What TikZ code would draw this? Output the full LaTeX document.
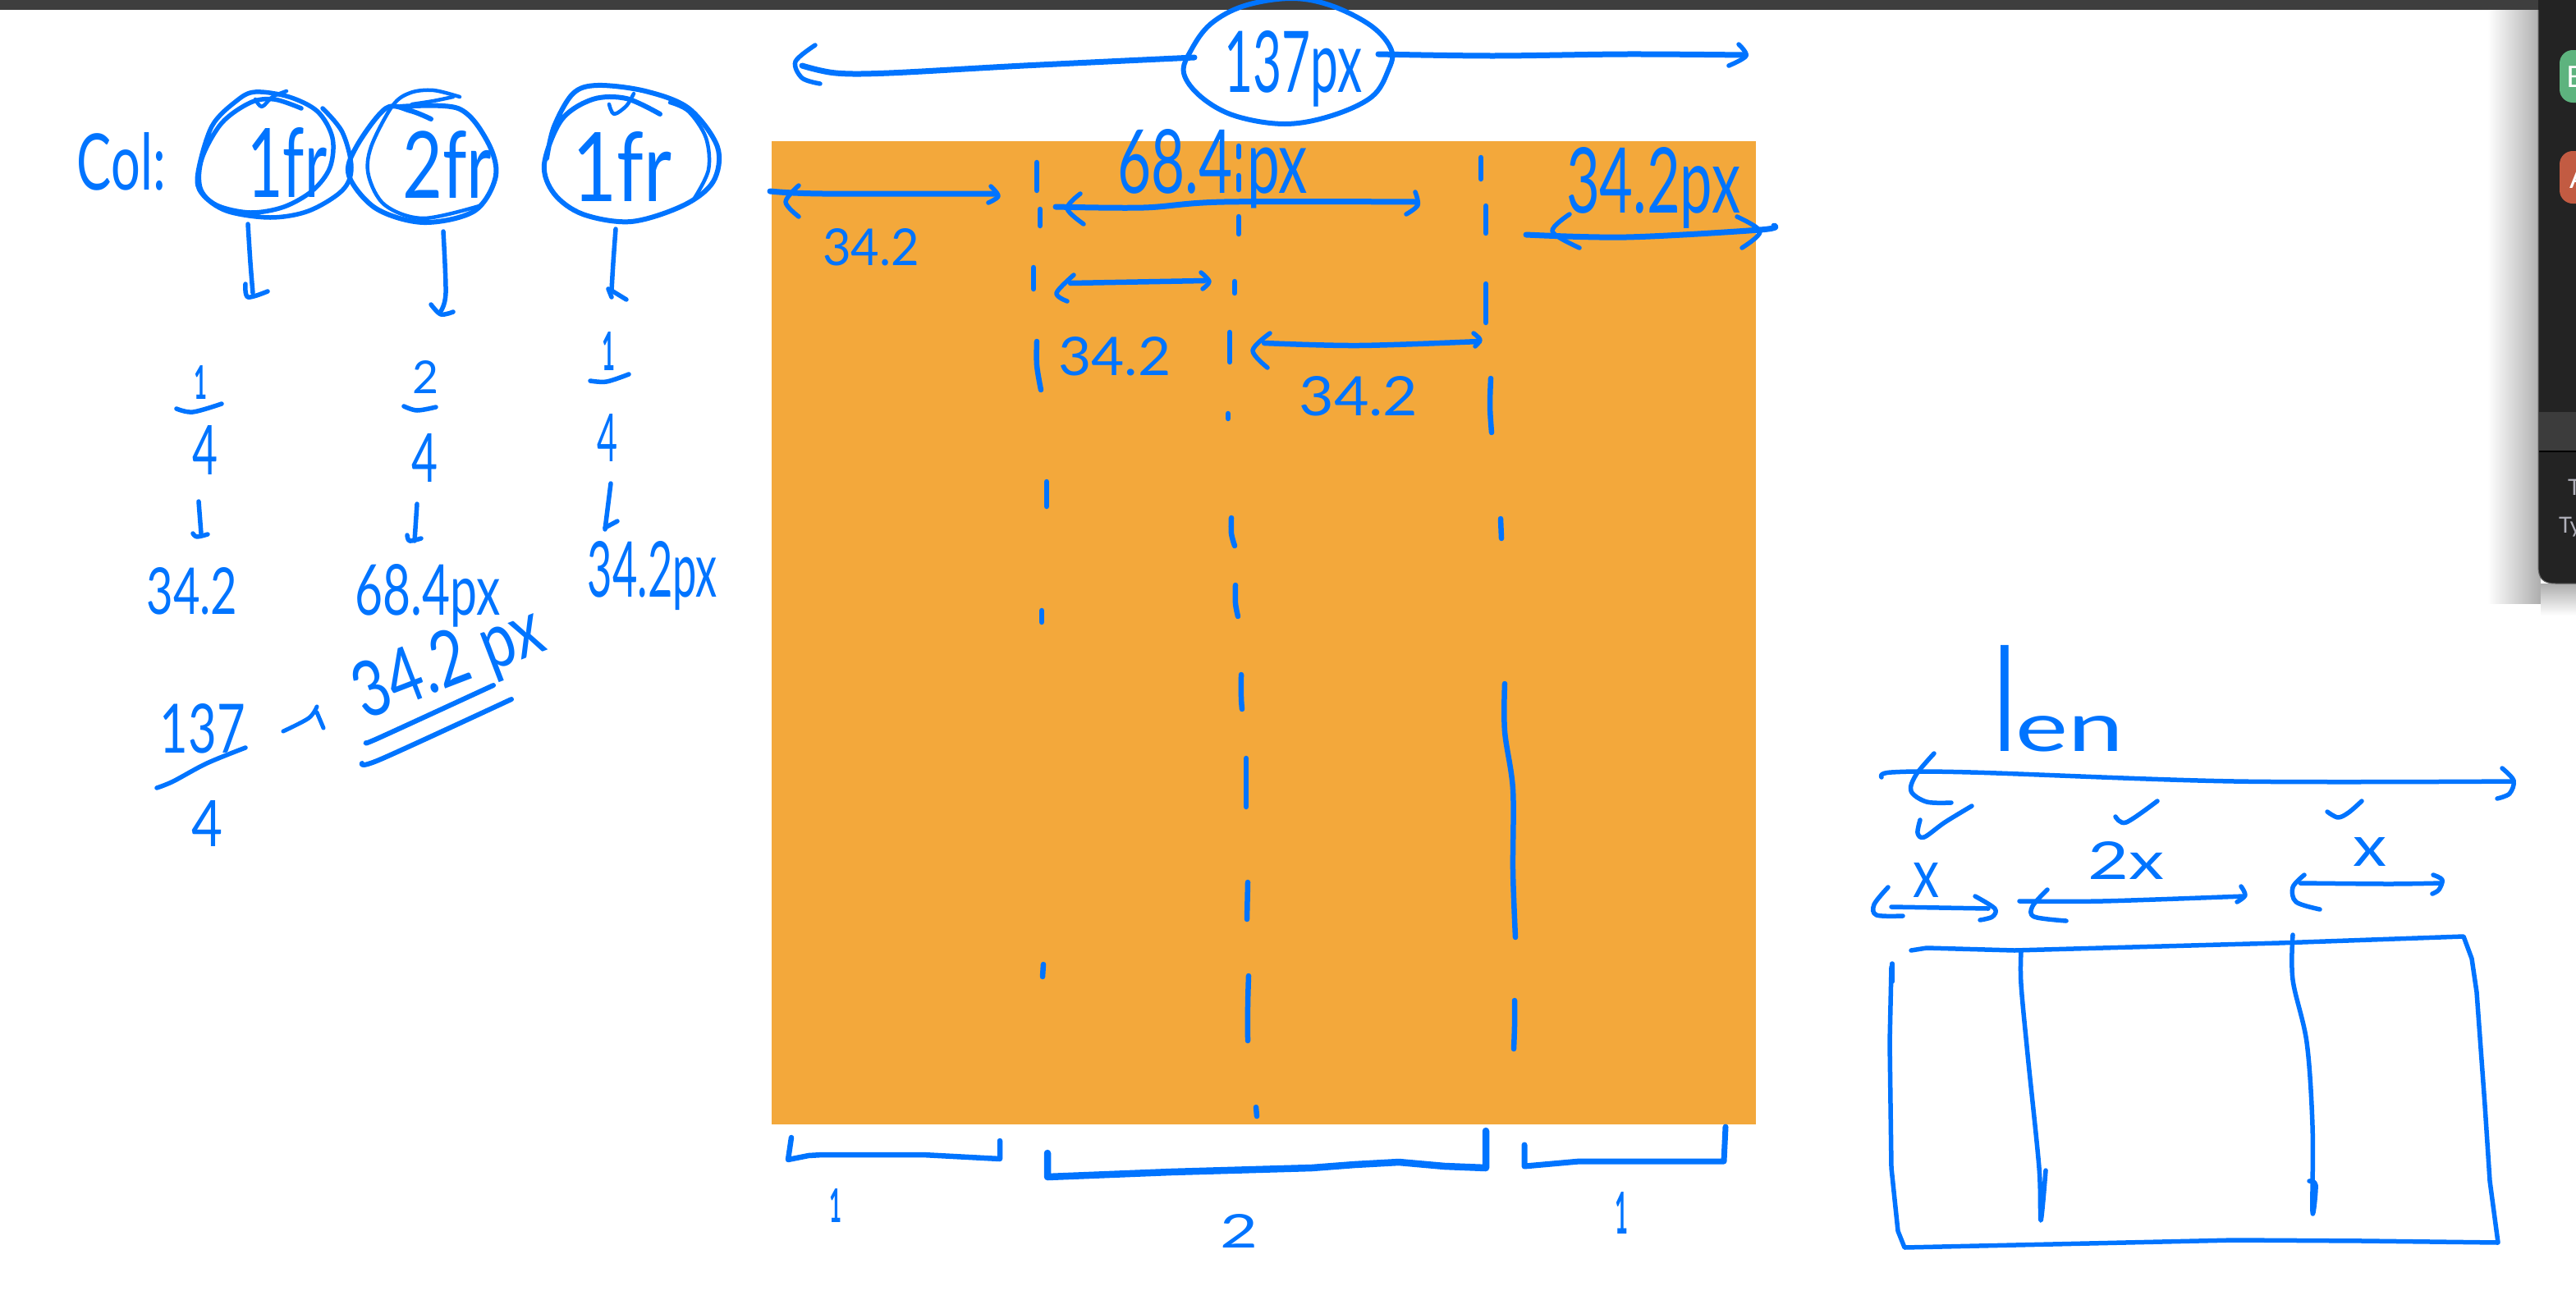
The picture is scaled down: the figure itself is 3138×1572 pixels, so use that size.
\documentclass[tikz,border=0pt]{standalone}
\usepackage{fontspec}
\usepackage{graphicx}
\setmainfont{Lato}
\definecolor{pen}{RGB}{0,116,255}
\definecolor{paper}{RGB}{243,168,59}
\definecolor{barc}{RGB}{62,62,62}
\definecolor{panelc}{RGB}{35,35,35}
\definecolor{bandc}{RGB}{60,60,60}
\definecolor{greenb}{RGB}{93,179,126}
\definecolor{redb}{RGB}{194,91,66}
\definecolor{uitext}{RGB}{176,176,186}
\tikzset{
  penline/.style={draw=pen,line cap=round,line join=round},
  hand/.style={text=pen,inner sep=0pt,outer sep=0pt},
  handb/.style={hand,font=\bfseries},
  uilabel/.style={inner sep=0pt,outer sep=0pt,anchor=west,font=\fontsize{27}{27}\selectfont}
}
% smooth stroke: optional width, then point list
\newcommand\stk[2][5.5]{\draw[penline,line width=#1pt] plot[smooth,tension=.55] coordinates {#2};}
% polyline stroke, for sharp corners
\newcommand\pol[2][5.5]{\draw[penline,line width=#1pt] plot coordinates {#2};}
% fitted handwriting label: name, centre x, y, width, height, text
\newcommand\hw[7][]{\node[hand,#1] (#2) at (#3,#4) {\resizebox{#5pt}{#6pt}{#7}};}
\begin{document}
\begin{tikzpicture}[x=1pt,y=-1pt]
\useasboundingbox (0,0) rectangle (3138,1572);
\clip (0,0) rectangle (3138,1572);
\fill[white] (0,0) rectangle (3138,1572);
% window chrome
\fill[barc] (0,0) rectangle (3138,12);
\fill[paper] (940,172) rectangle (2139,1370);
\shade[left color=white,right color=black!32] (3030,12) rectangle (3095,735);
\shade[top color=black!32,bottom color=white] (3095,711) rectangle (3138,750);
\fill[panelc] (3092,-20) -- (3092,690) .. controls (3092,705) and (3098,711) .. (3113,711) -- (3160,711) -- (3160,-20) -- cycle;
\draw[black!60,line width=1pt] (3092,12) -- (3092,690) .. controls (3092,705) and (3098,711) .. (3113,711) -- (3138,711);
\fill[bandc] (3093,502) rectangle (3138,550);
\draw[black,line width=1.2pt] (3093,550) -- (3138,550);
\fill[greenb,rounded corners=16pt] (3118,61) rectangle (3170,125);
\fill[redb,rounded corners=16pt] (3118,184) rectangle (3170,248);
\node[uilabel,text=white,font=\fontsize{36}{36}\selectfont] (uib) at (3126,94) {B};
\node[uilabel,text=white,font=\fontsize{36}{36}\selectfont] (uia) at (3130,217) {A};
\node[uilabel,text=uitext] (uit) at (3128,594) {T};
\node[uilabel,text=uitext] (uity) at (3117,642) {Ty};

% ---- left: circles
\hw{col}{148}{197}{108}{70}{Col:}
\stk{(367,132)(334,121)(305,125)(270,150)(246,193)(244,229)(264,250)(305,259)(346,252)(381,232)(402,204)(405,168)(387,136)(352,118)(311,112)(288,123)(258,154)(241,211)(246,236)(276,257)(329,265)(376,257)(417,232)(428,204)(417,161)(393,132)}
\stk[4.5]{(311,121)(319,130)(332,118)(349,111)}
\hw{fra}{350}{198}{97}{85}{1fr}
\stk[6]{(525,145)(500,135)(470,132)(434,179)(425,214)(458,254)(516,271)(578,257)(604,214)(593,171)(558,132)(487,130)}
\stk[4.5]{(560,118)(528,110)(500,113)(478,129)(452,179)(449,214)(469,250)(516,266)(587,250)}
\stk[4.5]{(502,127)(528,123)(552,118)}
\hw{frb}{545}{200}{109}{82}{2fr}
\stk[6]{(804,139)(763,120)(722,121)(684,146)(663,200)(675,236)(710,261)(769,270)(833,250)(869,221)(874,179)(839,132)(786,111)(728,104)(698,114)(675,154)(666,193)}
\stk[4.5]{(816,125)(839,136)(860,168)(863,207)(845,243)}
\stk[4.5]{(742,127)(748,139)(763,129)(772,114)}
\hw{frc}{758}{203}{121}{85}{1fr}
% down strokes
\stk{(302,273)(305,320)(308,357)}
\stk{(299,346)(302,362)(326,355)}
\stk{(540,282)(543,357)(537,379)}
\stk{(525,371)(537,383)(552,380)}
\stk{(750,279)(747,320)(745,354)}
\stk{(741,352)(745,362)}
\stk{(745,354)(763,365)}
% fractions
\hw[handb]{na}{244}{466}{16}{41}{1}
\stk{(215,498)(235,502)(270,492)}
\hw{da}{250}{548}{31}{60}{4}
\stk{(242,611)(245,650)}
\stk{(235,650)(240,654)(253,651)}
\hw{va}{234}{720}{111}{57}{34.2}
\hw{nb}{519}{459}{32}{40}{2}
\stk{(492,495)(508,500)(531,496)}
\hw{db}{518}{558}{32}{59}{4}
\stk{(508,614)(505,659)}
\stk{(496,652)(499,659)(513,656)}
\hw{vb}{521}{726}{177}{62}{68.4px}
\hw[handb]{nc}{741}{428}{16}{47}{1}
\stk{(719,464)(739,465)(766,456)}
\hw{dc}{740}{533}{25}{58}{4}
\stk{(744,589)(737,645)}
\stk{(752,635)(737,643)}
\hw{vc}{795}{702}{158}{68}{34.2px}
% sum
\hw{tt}{247}{888}{104}{60}{137}
\stk{(191,960)(211,952)(252,930)(299,911)}
\hw{de}{253}{1003}{38}{56}{4}
\stk[5]{(345,891)(376,875)(386,861)}
\stk[5]{(386,868)(394,887)}
\hw[rotate=21]{sum}{547}{810}{240}{68}{34.2 px}
\stk[6]{(446,905)(464,898)(601,835)}
\stk[6]{(441,930)(464,925)(623,852)}

% ---- top dimension
\draw[penline,line width=6pt] plot[smooth cycle,tension=.6] coordinates {(1442,89)(1463,118)(1504,141)(1565,151)(1622,141)(1671,118)(1691,86)(1695,61)(1671,32)(1622,7)(1573,-2)(1516,7)(1475,29)(1451,61)};
\hw{tot}{1575}{84}{168}{75}{137px}
\stk[7]{(1455,70)(1247,80)(1083,89)(1018,89)(977,80)}
\stk[5.5]{(993,55)(969,75)(977,95)(999,102)}
\stk[7]{(1679,66)(1818,68)(1981,66)(2124,67)}
\stk[5.5]{(2118,54)(2127,68)(2106,80)}

% ---- dashes in the square
\foreach \p in {{(1263,198)(1263,232)},{(1267,255)(1267,275)},{(1259,326)(1259,352)},{(1263,416)(1263,445)(1268,475)},{(1275,587)(1275,617)},{(1269,744)(1269,758)},{(1271,1175)(1270,1190)},
 {(1509,178)(1509,191)},{(1509,214)(1509,231)},{(1509,264)(1509,285)},{(1504,343)(1504,357)},{(1498,405)(1498,441)},{(1496,504)(1496,510)},{(1500,631)(1500,650)(1504,665)},{(1505,713)(1505,735)(1508,751)},{(1512,822)(1512,850)(1513,864)},{(1518,924)(1518,983)},{(1520,1075)(1519,1120)},{(1521,1189)(1520,1225)(1520,1268)},{(1530,1349)(1531,1360)},
 {(1804,192)(1804,218)},{(1810,251)(1810,284)},{(1810,346)(1810,393)},{(1816,461)(1815,495)(1817,527)},{(1828,632)(1829,656)},{(1833,833)(1833,891)(1843,962)(1843,1061)(1846,1142)},{(1845,1219)(1845,1250)(1844,1278)}}
{\edef\tmp{\noexpand\stk[6.5]{\p}}\tmp}

% ---- arrows in the square
\stk[7]{(938,233)(1002,236)(1214,236)}
\stk{(973,226)(957,246)(973,264)}
\stk{(1207,227)(1216,239)(1204,247)}
\hw{la}{1061}{301}{118}{45}{34.2}
\stk[7]{(1286,252)(1393,253)(1491,246)(1724,246)}
\stk{(1316,236)(1300,254)(1320,273)}
\stk{(1724,234)(1727,250)(1713,261)}
\hw{lb}{1477}{206}{232}{78}{68.4 px}
\hw{lc}{2014}{229}{212}{80}{34.2px}
\stk[7]{(1859,286)(1981,289)(2144,280)(2161,275)}
\stk{(1912,261)(1891,282)(1924,302)}
\stk{(2116,264)(2144,282)(2122,302)}
\stk[6.5]{(1304,345)(1467,342)}
\stk{(1308,335)(1287,357)(1300,367)}
\stk{(1463,332)(1473,343)(1465,352)}
\hw{ld}{1358}{434}{137}{47}{34.2}
\stk[6.5]{(1540,418)(1655,421)(1802,416)}
\stk{(1547,406)(1526,427)(1544,448)}
\stk{(1795,406)(1803,414)(1797,422)}
\hw{le}{1655}{483}{145}{48}{34.2}

% ---- brackets
\pol[6.5]{(964,1386)(960,1413)(985,1408)(1002,1407)(1124,1407)(1218,1412)(1218,1390)}
\pol[8.5]{(1276,1405)(1276,1434)(1426,1428)(1598,1423)(1650,1419)(1704,1416)(1760,1421)(1810,1423)(1810,1378)}
\pol[7]{(1857,1395)(1857,1421)(1924,1415)(2100,1415)(2102,1373)}
\hw[handb]{ba}{1018}{1469}{15}{41}{1}
\hw{bb}{1509}{1500}{46}{41}{2}
\hw[handb]{bc}{1975}{1478}{16}{51}{1}

% ---- right drawing
\hw{len}{2508}{851}{157}{129}{\scalebox{0.9}[2.1]{l}en}
\stk{(2292,947)(2304,941)(2401,941)(2722,952)(3062,952)}
\stk{(2356,918)(2334,944)(2328,964)(2347,977)(2377,978)}
\stk{(3048,936)(3062,951)(3057,967)(3042,973)}
\stk{(2339,999)(2336,1015)(2344,1020)(2369,1002)(2402,982)}
\stk{(2577,995)(2590,1002)(2628,976)}
\stk{(2835,989)(2848,996)(2861,990)(2877,976)}
\hw{xa}{2346}{1072}{32}{42}{x}
\stk{(2304,1105)(2422,1107)}
\stk{(2300,1081)(2283,1102)(2286,1115)(2318,1116)}
\stk{(2406,1092)(2430,1107)(2427,1117)(2412,1121)}
\hw{xb}{2590}{1048}{93}{46}{2x}
\stk{(2460,1098)(2561,1098)(2733,1092)}
\stk{(2494,1084)(2476,1104)(2478,1117)(2517,1122)}
\stk{(2730,1080)(2735,1091)(2725,1099)}
\hw{xc}{2887}{1038}{41}{35}{x}
\stk{(2802,1076)(2910,1077)(2974,1076)}
\stk{(2807,1066)(2793,1081)(2797,1099)(2826,1108)}
\stk{(2964,1066)(2975,1072)(2971,1084)(2963,1089)}
\pol{(2328,1158)(2347,1155)(2454,1158)(2776,1149)(3001,1141)(3011,1168)(3017,1209)(3027,1347)(3033,1439)(3043,1514)(2880,1512)(2722,1511)(2500,1516)(2320,1520)(2312,1500)(2304,1423)(2302,1270)(2304,1178)}
\stk{(2305,1174)(2305,1196)}
\stk{(2462,1160)(2462,1199)(2470,1285)(2484,1423)(2486,1487)(2492,1426)}
\stk{(2793,1139)(2793,1194)(2810,1270)(2817,1372)(2817,1477)(2821,1444)(2813,1439)}
\end{tikzpicture}
\end{document}
